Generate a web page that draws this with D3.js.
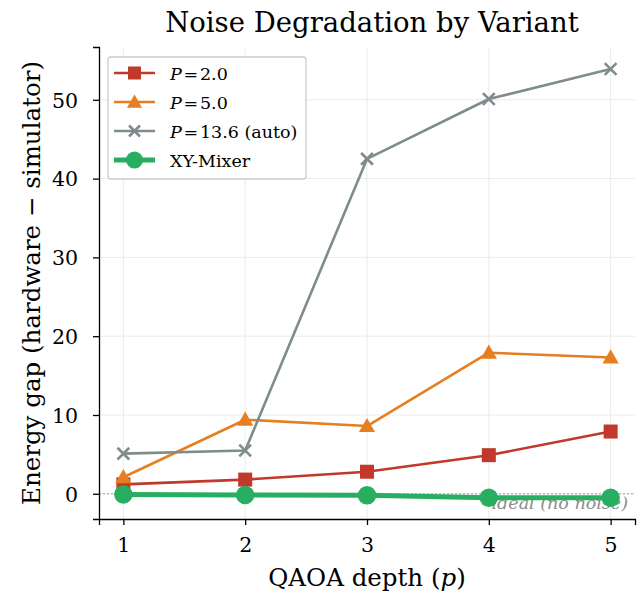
<!DOCTYPE html>
<html lang="en">
<head>
  <meta charset="utf-8">
  <title>Noise Degradation by Variant</title>
  <script src="https://d3js.org/d3.v7.min.js"></script>
  <style>
    body { margin: 0; background: #fff; }
    text { font-family: "DejaVu Serif", serif; }
  </style>
</head>
<body>
  <svg width="644" height="597"></svg>
  <script>
    // data
    var depths = [1, 2, 3, 4, 5];
    var gapP2 = [1.2, 1.8, 2.8, 4.9, 7.9];
    var gapP5 = [2.1, 9.4, 8.6, 17.9, 17.3];
    var gapP136 = [5.1, 5.5, 42.5, 50.1, 53.9];
    var gapXY = [-0.1, -0.15, -0.2, -0.5, -0.5];
    var yTicks = [0, 10, 20, 30, 40, 50];

    var series = [
      { values: gapP2, color: "#c0392b", marker: "square", width: 2.6 },
      { values: gapP5, color: "#e67e22", marker: "triangle", width: 2.6 },
      { values: gapP136, color: "#7f8c8d", marker: "x", width: 2.6 },
      { values: gapXY, color: "#27ae60", marker: "circle", width: 5 }
    ];

    var svg = d3.select("svg"),
      plotL = 99, plotR = 635, plotT = 47, plotB = 519;

    var x = d3.scaleLinear().domain([0.8, 5.2]).range([plotL, plotR]);
    var y = d3.scaleLinear().domain([-3.2, 56.7]).range([plotB, plotT]);

    // grid
    var grid = svg.append("g");
    depths.forEach(function(d) {
      grid.append("line").attr("x1", x(d)).attr("x2", x(d)).attr("y1", plotT).attr("y2", plotB)
        .attr("stroke", "#ebebeb").attr("stroke-width", 1);
    });
    yTicks.forEach(function(d) {
      grid.append("line").attr("x1", plotL).attr("x2", plotR).attr("y1", y(d)).attr("y2", y(d))
        .attr("stroke", "#ebebeb").attr("stroke-width", 1);
    });

    // ideal line
    svg.append("line").attr("x1", plotL).attr("x2", plotR).attr("y1", y(0)).attr("y2", y(0))
      .attr("stroke", "#aaaaaa").attr("stroke-width", 1.2).attr("stroke-dasharray", "2,2");
    svg.append("text").attr("x", 628).attr("y", y(0) + 15).attr("text-anchor", "end")
      .attr("font-size", 17.5).attr("font-style", "italic").attr("fill", "#8c8c8c")
      .text("ideal (no noise)");

    var line = d3.line().x(function(d, i) { return x(depths[i]); }).y(function(d) { return y(d); });

    function drawMarker(g, s, cx, cy, size) {
      if (s.marker === "square") {
        g.append("rect").attr("x", cx - size / 2).attr("y", cy - size / 2)
          .attr("width", size).attr("height", size).attr("fill", s.color);
      } else if (s.marker === "triangle") {
        var h = size * 0.58;
        g.append("path").attr("d", "M" + cx + "," + (cy - h) + "L" + (cx + h) + "," + (cy + h * 0.75) +
          "L" + (cx - h) + "," + (cy + h * 0.75) + "Z").attr("fill", s.color);
      } else if (s.marker === "x") {
        var r = size * 0.42;
        g.append("path").attr("d", "M" + (cx - r) + "," + (cy - r) + "L" + (cx + r) + "," + (cy + r) +
          "M" + (cx - r) + "," + (cy + r) + "L" + (cx + r) + "," + (cy - r))
          .attr("stroke", s.color).attr("stroke-width", 2.6);
      } else {
        g.append("circle").attr("cx", cx).attr("cy", cy).attr("r", size * 0.66).attr("fill", s.color);
      }
    }

    series.forEach(function(s) {
      var g = svg.append("g");
      g.append("path").datum(s.values).attr("d", line).attr("fill", "none")
        .attr("stroke", s.color).attr("stroke-width", s.width).attr("stroke-linejoin", "round");
      s.values.forEach(function(v, i) {
        drawMarker(g, s, x(depths[i]), y(v), 14);
      });
    });

    // axes
    var xAxis = svg.append("g").attr("transform", "translate(0," + plotB + ")")
      .call(d3.axisBottom(x).tickValues(depths).tickFormat(d3.format("d")).tickSizeOuter(0).tickSize(6).tickPadding(12));
    var yAxis = svg.append("g").attr("transform", "translate(" + plotL + ",0)")
      .call(d3.axisLeft(y).tickValues(yTicks).tickSizeOuter(0).tickSize(6).tickPadding(15));
    [xAxis, yAxis].forEach(function(a) {
      a.selectAll("text").attr("font-size", 20.5).attr("font-family", "DejaVu Serif").attr("fill", "#000");
      a.selectAll("line").attr("stroke", "#000").attr("stroke-width", 1.3);
      a.select(".domain").attr("stroke", "#000").attr("stroke-width", 1.3);
    });
    yAxis.selectAll("text").attr("dy", "0.36em");

    // titles
    svg.append("text").attr("x", 372).attr("y", 32).attr("text-anchor", "middle")
      .attr("font-size", 27.5).text("Noise Degradation by Variant");
    var xl = svg.append("text").attr("x", 367).attr("y", 586).attr("text-anchor", "middle").attr("font-size", 24.5);
    xl.append("tspan").text("QAOA depth (");
    xl.append("tspan").attr("font-style", "italic").text("p");
    xl.append("tspan").text(")");
    svg.append("text").attr("transform", "translate(40,283) rotate(-90)").attr("text-anchor", "middle")
      .attr("font-size", 24.5).text("Energy gap (hardware \u2212 simulator)");

    // legend
    var lg = svg.append("g");
    lg.append("rect").attr("x", 108).attr("y", 57).attr("width", 198).attr("height", 122).attr("rx", 3)
      .attr("fill", "#fff").attr("fill-opacity", 0.85).attr("stroke", "#cccccc").attr("stroke-width", 1.3);
    var labels = [["P", "\u200a=\u200a2.0"], ["P", "\u200a=\u200a5.0"], ["P", "\u200a=\u200a13.6 (auto)"], ["", "XY-Mixer"]];
    series.forEach(function(s, i) {
      var ly = 73 + i * 29;
      lg.append("line").attr("x1", 114).attr("x2", 155).attr("y1", ly).attr("y2", ly)
        .attr("stroke", s.color).attr("stroke-width", s.width);
      drawMarker(lg, s, 134.5, ly, 13);
      var t = lg.append("text").attr("x", 170).attr("y", ly + 6.5).attr("font-size", 17.5);
      if (labels[i][0]) t.append("tspan").attr("font-style", "italic").text(labels[i][0]);
      t.append("tspan").text(labels[i][1]);
    });
  </script>
</body>
</html>
